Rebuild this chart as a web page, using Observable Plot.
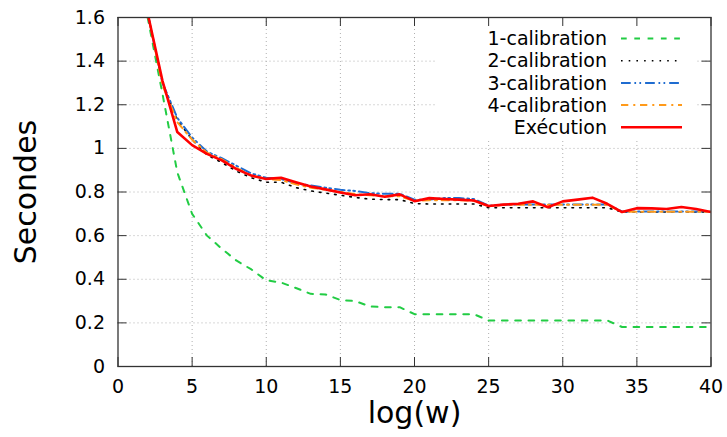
<!DOCTYPE html>
<html><head><meta charset="utf-8">
<script src="https://cdn.jsdelivr.net/npm/d3@7"></script>
<script src="https://cdn.jsdelivr.net/npm/@observablehq/plot@0.6"></script>
<style>body{margin:0;background:#fff} svg{display:block}</style>
</head><body><div id="chart"></div>
<script>
// ---- data ----
const logW = [2,3,4,5,6,7,8,9,10,11,12,13,14,15,16,17,18,19,20,21,22,23,24,25,26,27,28,29,30,31,32,33,34,35,36,37,38,39,40];
const cal1 = [1.60,1.25,0.89,0.70,0.60,0.54,0.485,0.445,0.395,0.385,0.36,0.333,0.33,0.305,0.30,0.275,0.272,0.272,0.24,0.24,0.24,0.24,0.24,
  0.211,0.211,0.211,0.211,0.211,0.211,0.211,0.211,0.211, 0.181,0.181,0.181,0.181,0.181,0.181,0.181];
const cal2 = [1.62,1.30,1.13,1.04,0.97,0.935,0.895,0.865,0.845,0.845,0.82,0.805,0.795,0.785,0.775,0.767,0.765,0.765,0.747,0.745,0.745,0.745,0.745,
  0.728,0.728,0.728,0.728,0.728,0.728,0.728,0.728,0.728, 0.708,0.708,0.708,0.708,0.708,0.708,0.708];
const cal3 = [1.62,1.30,1.14,1.05,0.985,0.955,0.92,0.885,0.865,0.86,0.84,0.83,0.82,0.81,0.805,0.795,0.792,0.792,0.765,0.765,0.772,0.772,0.768,
  0.737,0.742,0.743,0.743,0.743,0.743,0.743,0.743,0.743, 0.711,0.711,0.711,0.711,0.711,0.711,0.711];
const cal4 = [1.62,1.29,1.12,1.04,0.98,0.95,0.91,0.875,0.86,0.855,0.835,0.82,0.81,0.80,0.79,0.785,0.78,0.78,0.76,0.762,0.762,0.762,0.76,
  0.735,0.741,0.741,0.741,0.741,0.741,0.741,0.741,0.741, 0.709,0.709,0.709,0.709,0.709,0.709,0.709];
const execution = [1.62,1.31,1.075,1.015,0.975,0.945,0.905,0.875,0.86,0.865,0.845,0.825,0.812,0.798,0.785,0.79,0.778,0.789,0.758,0.772,0.768,0.765,0.761,
  0.736,0.742,0.746,0.757,0.73,0.757,0.765,0.774,0.746,0.708,0.726,0.725,0.722,0.731,0.722,0.708];
const seriesNames = ["1-calibration","2-calibration","3-calibration","4-calibration","Exécution"];
const seriesValues = [cal1, cal2, cal3, cal4, execution];
const xTicks = [0,5,10,15,20,25,30,35,40];
const yTicks = [0,0.2,0.4,0.6,0.8,1,1.2,1.4,1.6];

// ---- styles ----
const styles = [
  {stroke:"#22cc44", strokeWidth:2, strokeDasharray:"5.7,7.6"},
  {stroke:"#000000", strokeWidth:1.6, strokeDasharray:"1.6,6.1"},
  {stroke:"#1f6cd0", strokeWidth:2, strokeDasharray:"9.7,3.7,1.7,3.3,1.7,4"},
  {stroke:"#ff9a1a", strokeWidth:2, strokeDasharray:"7.3,5,2,4.7"},
  {stroke:"#ff0000", strokeWidth:2.6}
];

const W = 727, H = 437, mL = 117.5, mR = 16.5, mT = 17, mB = 71;
const pW = W - mL - mR, pH = H - mT - mB;
const font = "DejaVu Sans";

const tables = seriesValues.map((vals, i) => logW.map((x, j) => ({x, y: vals[j], s: seriesNames[i]})));
const gridStyle = {stroke:"#b0b0b0", strokeOpacity:1, strokeWidth:1, strokeDasharray:"1,3"};
const tickColor = "#333";

const chart = Plot.plot({
  width: W, height: H,
  marginLeft: mL, marginRight: mR, marginTop: mT, marginBottom: mB,
  style: {fontFamily: font, fontSize: "19px", color: "#000", background: "#fff"},
  x: {domain: [0, 40]},
  y: {domain: [0, 1.6]},
  marks: [
    Plot.gridX(xTicks.slice(1, -1), {...gridStyle}),
    Plot.gridY(yTicks.slice(1, -1), {...gridStyle}),
    ...tables.map((t, i) => Plot.line(t, {x: "x", y: "y", ...styles[i], clip: true, className: "curves"})),
    Plot.tickX(xTicks, {x: d => d, insetTop: pH - 9, stroke: tickColor}),
    Plot.tickX(xTicks, {x: d => d, insetBottom: pH - 9, stroke: tickColor}),
    Plot.tickY(yTicks, {y: d => d, insetRight: pW - 9, stroke: tickColor}),
    Plot.tickY(yTicks, {y: d => d, insetLeft: pW - 9, stroke: tickColor}),
    Plot.axisX(xTicks, {tickSize: 0, tickPadding: 13, label: null, fontSize: 19}),
    Plot.axisY(yTicks, {tickSize: 0, tickPadding: 13, label: null, fontSize: 19,
      tickFormat: d => String(+d.toFixed(1))}),
    Plot.frame({stroke: tickColor, strokeWidth: 1.3}),
    Plot.text(["Secondes"], {frameAnchor: "left", dx: -92, rotate: -90, textAnchor: "middle", lineAnchor: "middle", fontSize: 30, fill: "#000"}),
    Plot.text(["log(w)"], {frameAnchor: "bottom", dy: 47, textAnchor: "middle", lineAnchor: "middle", fontSize: 30, fill: "#000"})
  ]
});

// ---- legend (opaque key, top right) ----
const firstCurve = chart.querySelector(".curves");
const bg = document.createElementNS("http://www.w3.org/2000/svg", "rect");
bg.setAttribute("x", 435); bg.setAttribute("y", mT + 1);
bg.setAttribute("width", 262); bg.setAttribute("height", 123); bg.setAttribute("fill", "#fff");
if (firstCurve && firstCurve.parentNode) firstCurve.parentNode.insertBefore(bg, firstCurve);
else chart.appendChild(bg);

const svg = d3.select(chart);
const key = svg.append("g").attr("font-family", font).attr("font-size", 19);
seriesNames.forEach((name, i) => {
  const yy = 38.5 + i * 22.2;
  key.append("text").attr("x", 607).attr("y", yy).attr("dy", "0.35em")
    .attr("text-anchor", "end").attr("fill", "#000").text(name);
  const st = styles[i];
  key.append("line").attr("x1", 621).attr("x2", 682).attr("y1", yy).attr("y2", yy)
    .attr("stroke", st.stroke).attr("stroke-width", st.strokeWidth)
    .attr("stroke-dasharray", st.strokeDasharray || null);
});

document.getElementById("chart").appendChild(chart);
</script>
</body></html>
